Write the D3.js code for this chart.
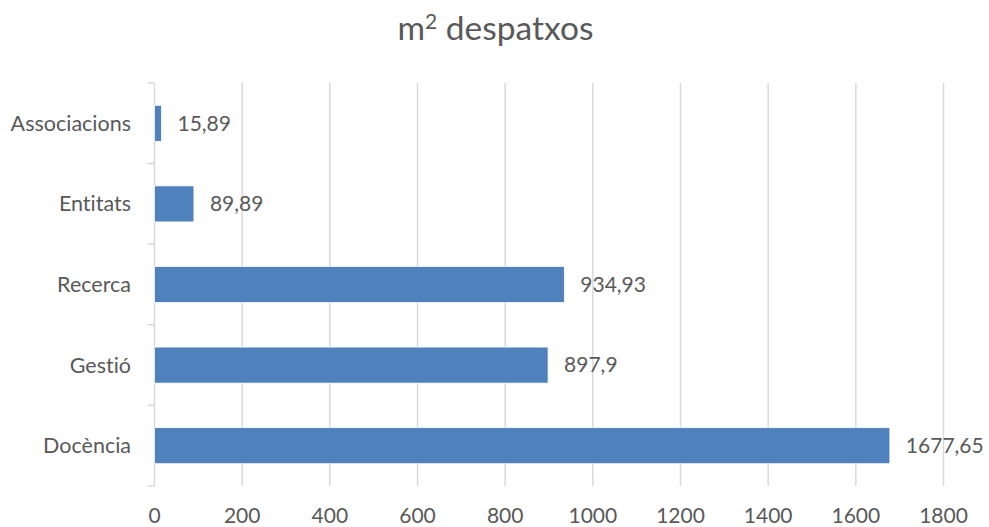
<!DOCTYPE html>
<html>
<head>
<meta charset="utf-8">
<script src="https://cdn.jsdelivr.net/npm/d3@7"></script>
<style>
  html, body { margin: 0; padding: 0; background: #fff; }
  svg { display: block; }
  text { font-family: Lato, "Open Sans", sans-serif; fill: #595959; font-variant-ligatures: none; font-feature-settings: "liga" 0, "clig" 0; }
</style>
</head>
<body>
<svg id="chart" width="989" height="527"></svg>
<script>
const categories = ["Associacions", "Entitats", "Recerca", "Gestió", "Docència"];
const values = [15.89, 89.89, 934.93, 897.9, 1677.65];
const xTicks = [0, 200, 400, 600, 800, 1000, 1200, 1400, 1600, 1800];
const titleBase = "m";
const titleSup = "2";
const titleRest = " despatxos";

const W = 989, H = 527;
const svg = d3.select("#chart");
const plot = { left: 154.5, right: 943.5, top: 83, bottom: 486 };

const x = d3.scaleLinear().domain([0, 1800]).range([plot.left, plot.right]);
const y = d3.scaleBand().domain(categories).range([plot.top, plot.bottom])
  .paddingInner(0.553).paddingOuter(0.2765);

// title
const t = svg.append("text")
  .attr("x", W / 2 + 1).attr("y", 40)
  .attr("text-anchor", "middle")
  .style("font-size", "33.5px");
t.append("tspan").text(titleBase);
t.append("tspan").attr("dy", -11).style("font-size", "21px").text(titleSup);
t.append("tspan").attr("dy", 11).text(titleRest);

// gridlines
svg.append("g").selectAll("line").data(xTicks.filter(d => d > 0)).join("line")
  .attr("x1", d => x(d)).attr("x2", d => x(d))
  .attr("y1", plot.top).attr("y2", plot.bottom)
  .attr("stroke", "#d9d9d9").attr("stroke-width", 1.5);

// x tick labels
svg.append("g").selectAll("text").data(xTicks).join("text")
  .attr("x", d => x(d)).attr("y", 523)
  .attr("text-anchor", "middle")
  .style("font-size", "21px")
  .text(d => d);

// left axis line and ticks at band boundaries
const gAxis = svg.append("g");
gAxis.append("line")
  .attr("x1", plot.left).attr("x2", plot.left)
  .attr("y1", plot.top).attr("y2", plot.bottom)
  .attr("stroke", "#d9d9d9").attr("stroke-width", 1.5);
const bounds = d3.range(categories.length + 1).map(i => plot.top + i * (plot.bottom - plot.top) / categories.length);
gAxis.selectAll("line.tick").data(bounds).join("line").attr("class", "tick")
  .attr("x1", plot.left - 7).attr("x2", plot.left)
  .attr("y1", d => d).attr("y2", d => d)
  .attr("stroke", "#d9d9d9").attr("stroke-width", 1.5);

// category labels
svg.append("g").selectAll("text").data(categories).join("text")
  .attr("x", 131).attr("y", d => y(d) + y.bandwidth() / 2)
  .attr("dy", "0.35em")
  .attr("text-anchor", "end")
  .style("font-size", "21.5px")
  .text(d => d);

// bars
svg.append("g").selectAll("rect").data(values).join("rect")
  .attr("x", x(0))
  .attr("y", (d, i) => y(categories[i]))
  .attr("width", d => x(d) - x(0))
  .attr("height", y.bandwidth())
  .attr("fill", "#4f81bd")
  .attr("stroke", "#ffffff").attr("stroke-width", 0.75);

// data labels
svg.append("g").selectAll("text").data(values).join("text")
  .attr("x", d => x(d) + 16)
  .attr("y", (d, i) => y(categories[i]) + y.bandwidth() / 2)
  .attr("dy", "0.35em")
  .style("font-size", "21px")
  .text(d => String(d).replace(".", ","));
</script>
</body>
</html>
